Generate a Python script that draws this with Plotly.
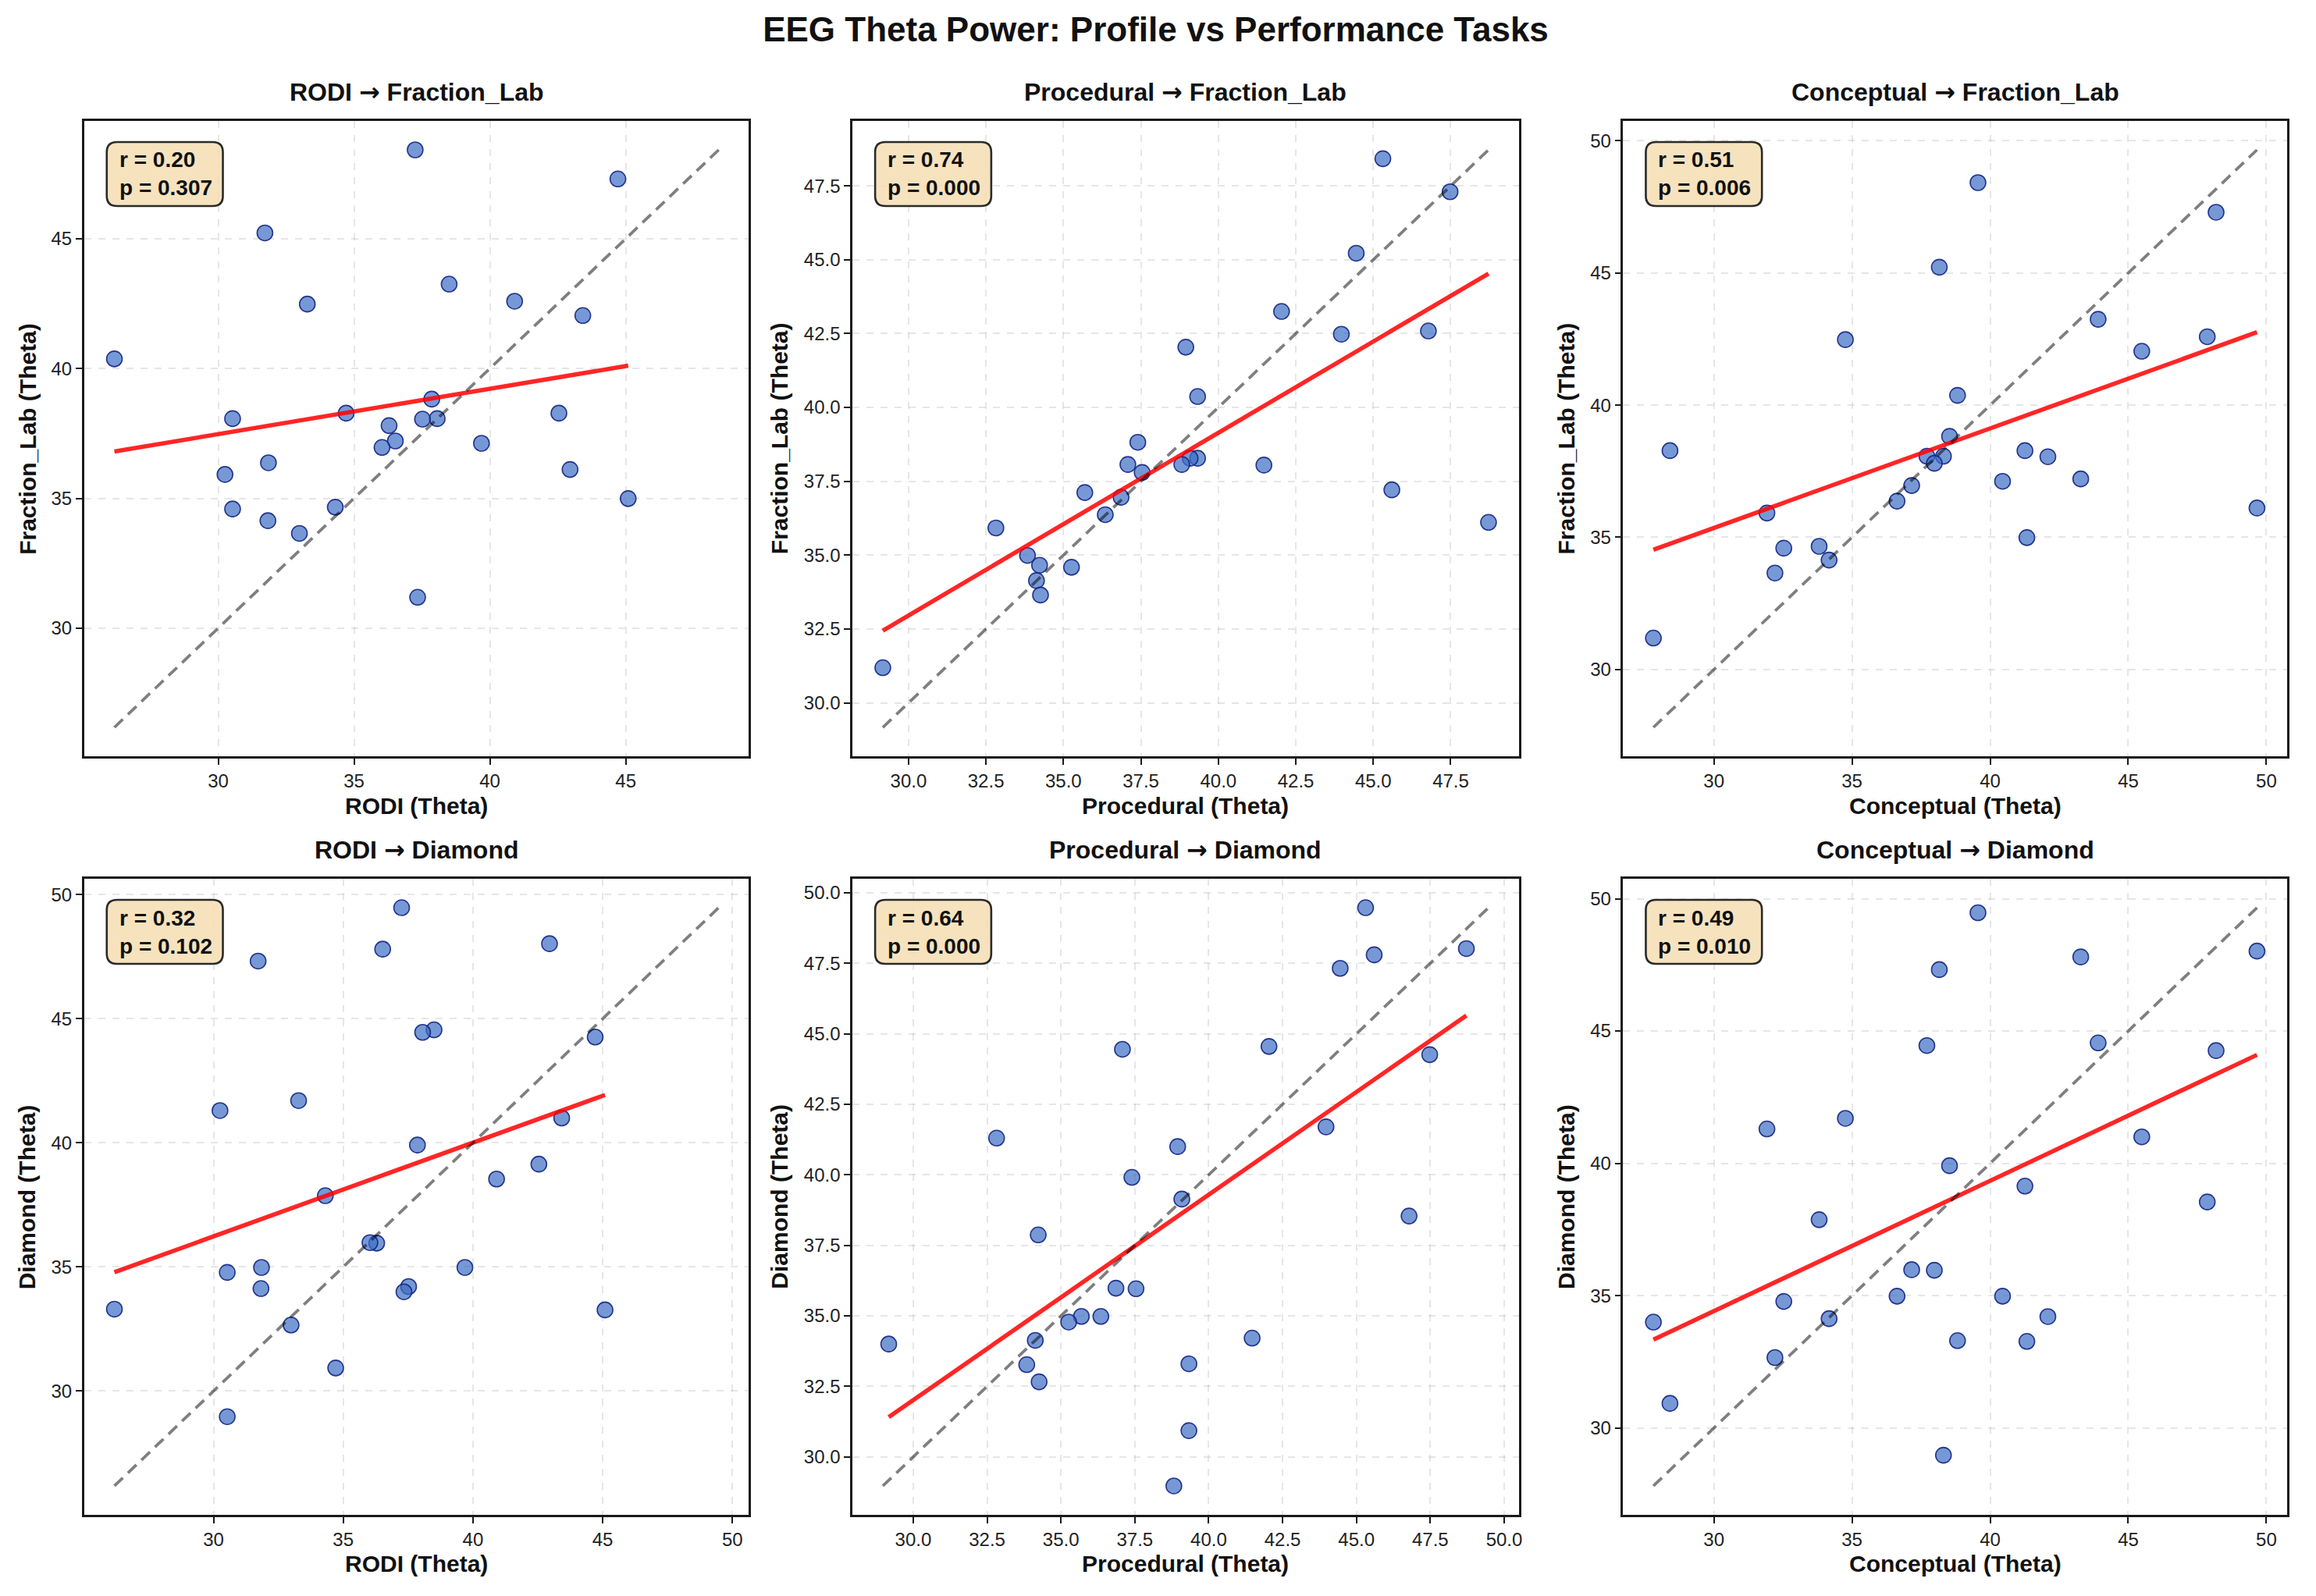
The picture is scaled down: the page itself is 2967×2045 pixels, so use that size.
import numpy as np
import plotly.graph_objects as go

# ---------------- data ----------------
rodi = [37.25, 44.71, 31.72, 38.50, 40.91, 33.28, 43.42, 26.18, 37.86, 34.71, 42.54, 30.53, 38.06, 37.52,
        36.29, 36.52, 39.69, 36.03, 31.85, 42.95, 30.25, 45.09, 34.31, 30.53, 31.83, 32.99, 37.34]
procedural = [45.31, 47.48, 44.45, 42.04, 46.78, 43.97, 38.95, 39.33, 37.40, 39.33, 39.09, 38.82, 37.08, 41.47,
              37.54, 45.60, 35.69, 36.86, 36.35, 48.72, 32.82, 33.84, 34.23, 35.26, 34.13, 34.26, 29.17]
conceptual = [39.56, 48.18, 38.16, 43.91, 47.86, 34.76, 45.49, 38.82, 38.53, 28.41, 41.26, 38.31, 37.71, 42.09,
              37.98, 43.28, 40.45, 37.16, 36.63, 49.66, 31.92, 41.33, 33.81, 32.53, 34.17, 32.21, 27.81]
fraction_lab = [48.42, 47.30, 45.22, 43.25, 42.59, 42.48, 42.04, 40.37, 38.82, 38.28, 38.28, 38.07, 38.07, 38.05,
                37.80, 37.21, 37.12, 36.96, 36.37, 36.11, 35.92, 34.99, 34.66, 34.59, 34.14, 33.65, 31.19]
diamond = [49.47, 44.26, 47.32, 44.55, 38.54, 41.70, 41.00, 33.30, 39.91, 30.93, 39.14, 28.97, 44.45, 34.21,
           35.96, 47.80, 34.98, 35.98, 34.98, 48.02, 41.30, 33.27, 37.87, 34.78, 34.13, 32.66, 34.00]

predictor_names = ["RODI", "Procedural", "Conceptual"]
outcome_names = ["Fraction_Lab", "Diamond"]
r_values = [0.20, 0.74, 0.51, 0.32, 0.64, 0.49]
p_values = [0.307, 0.000, 0.006, 0.102, 0.000, 0.010]
tick_steps = [5, 2.5, 5, 5, 2.5, 5]
title_text = "EEG Theta Power: Profile vs Performance Tasks"

predictors = [rodi, procedural, conceptual]
outcomes = [fraction_lab, diamond]

# ---------------- layout geometry ----------------
OFF = 8  # page body margin compensation
W, H = 2967 - OFF, 2045 - OFF
col_px = [(108 - OFF, 961 - OFF), (1094 - OFF, 1949 - OFF), (2083 - OFF, 2935 - OFF)]
row_px = [(155 - OFF, 969 - OFF), (1126 - OFF, 1941 - OFF)]
FONT = "Liberation Sans, Arial, Helvetica, sans-serif"
ARROW = "<span style=\"font-family:'DejaVu Sans'\">\u2192</span>"

fig = go.Figure()
layout = dict(
    width=W, height=H, margin=dict(l=0, r=0, t=0, b=0),
    paper_bgcolor="white", plot_bgcolor="white", showlegend=False,
    font=dict(family=FONT, color="#111111"),
    title=dict(text="<b>" + title_text + "</b>", x=(1483 - OFF) / W, xanchor="center",
               xref="paper", yref="container", y=1 - (38 - OFF) / H, yanchor="middle",
               font=dict(size=44, family=FONT, color="#111111")),
)
annotations = []
shapes = []

for ri in range(2):
    for ci in range(3):
        k = ri * 3 + ci
        n = k + 1
        xa = "x" if n == 1 else f"x{n}"
        ya = "y" if n == 1 else f"y{n}"
        xl = "xaxis" if n == 1 else f"xaxis{n}"
        yl = "yaxis" if n == 1 else f"yaxis{n}"
        x = np.array(predictors[ci], dtype=float)
        y = np.array(outcomes[ri], dtype=float)

        # scatter points
        fig.add_trace(go.Scatter(
            x=x, y=y, mode="markers", xaxis=xa, yaxis=ya, hoverinfo="x+y",
            marker=dict(size=20, color="rgba(60,110,196,0.70)",
                        line=dict(color="rgba(20,35,130,0.9)", width=1.6))))
        # regression line
        slope, inter = np.polyfit(x, y, 1)
        xs = np.array([x.min(), x.max()])
        fig.add_trace(go.Scatter(
            x=xs, y=slope * xs + inter, mode="lines", xaxis=xa, yaxis=ya,
            line=dict(color="rgba(255,0,0,0.85)", width=5.5), hoverinfo="skip"))
        # identity line
        lo = min(x.min(), y.min())
        hi = max(x.max(), y.max())
        fig.add_trace(go.Scatter(
            x=[lo, hi], y=[lo, hi], mode="lines", xaxis=xa, yaxis=ya,
            line=dict(color="rgba(0,0,0,0.5)", width=3.8, dash="15px,9px"), hoverinfo="skip"))

        pad = 0.05 * (hi - lo)
        rng = [lo - pad, hi + pad]
        fmt = ".1f" if tick_steps[k] < 5 else "d"
        x0p, x1p = col_px[ci]
        y0p, y1p = row_px[ri]
        axis_common = dict(
            range=rng, dtick=tick_steps[k], tick0=0, tickformat=fmt,
            showline=True, linecolor="#1a1a1a", linewidth=2.6, mirror=True,
            ticks="outside", ticklen=8, tickwidth=2.2, tickcolor="#1a1a1a",
            tickfont=dict(size=24, family=FONT, color="#222222"),
            showgrid=True, gridcolor="rgba(176,176,176,0.32)", gridwidth=1.6, griddash="dash",
            zeroline=False, fixedrange=True,
        )
        layout[xl] = dict(axis_common, domain=[x0p / W, x1p / W], anchor=ya)
        layout[yl] = dict(axis_common, domain=[1 - y1p / H, 1 - y0p / H], anchor=xa)

        pw = x1p - x0p
        ph = y1p - y0p
        pname = predictor_names[ci]
        oname = outcome_names[ri]
        ytitle_shift = -94 if tick_steps[k] < 5 else -73
        # subplot title
        annotations.append(dict(
            text=f"<b>{pname} {ARROW} {oname}</b>", xref=f"{xa} domain", yref=f"{ya} domain",
            x=0.5, y=1, xanchor="center", yanchor="middle", yshift=37, showarrow=False,
            font=dict(size=32, family=FONT, color="#111111")))
        # x axis title
        annotations.append(dict(
            text=f"<b>{pname} (Theta)</b>", xref=f"{xa} domain", yref=f"{ya} domain",
            x=0.5, y=0, xanchor="center", yanchor="middle", yshift=-63, showarrow=False,
            font=dict(size=30, family=FONT, color="#111111")))
        # y axis title
        annotations.append(dict(
            text=f"<b>{oname} (Theta)</b>", xref=f"{xa} domain", yref=f"{ya} domain",
            x=0, y=0.5, xanchor="center", yanchor="middle", xshift=ytitle_shift, textangle=-90,
            showarrow=False, font=dict(size=30, family=FONT, color="#111111")))
        # stats box (rounded)
        bx0, bx1 = 29 / pw, 178 / pw
        by0, by1 = 1 - 109 / ph, 1 - 27 / ph
        rx, ry = 13 / pw, 13 / ph
        path = (f"M {bx0 + rx},{by1} L {bx1 - rx},{by1} Q {bx1},{by1} {bx1},{by1 - ry} "
                f"L {bx1},{by0 + ry} Q {bx1},{by0} {bx1 - rx},{by0} "
                f"L {bx0 + rx},{by0} Q {bx0},{by0} {bx0},{by0 + ry} "
                f"L {bx0},{by1 - ry} Q {bx0},{by1} {bx0 + rx},{by1} Z")
        shapes.append(dict(type="path", path=path, xref=f"{xa} domain", yref=f"{ya} domain",
                           fillcolor="rgba(245,222,179,0.85)", line=dict(color="#2a2a2a", width=2.6),
                           layer="above"))
        annotations.append(dict(
            text=f"<b>r = {r_values[k]:.2f}<br>p = {p_values[k]:.3f}</b>",
            xref=f"{xa} domain", yref=f"{ya} domain", x=43 / pw, y=1 - 68 / ph,
            xanchor="left", yanchor="middle", align="left", showarrow=False,
            font=dict(size=28, family=FONT, color="#111111")))

layout["annotations"] = annotations
layout["shapes"] = shapes
fig.update_layout(**layout)
fig.write_html("out.html")
